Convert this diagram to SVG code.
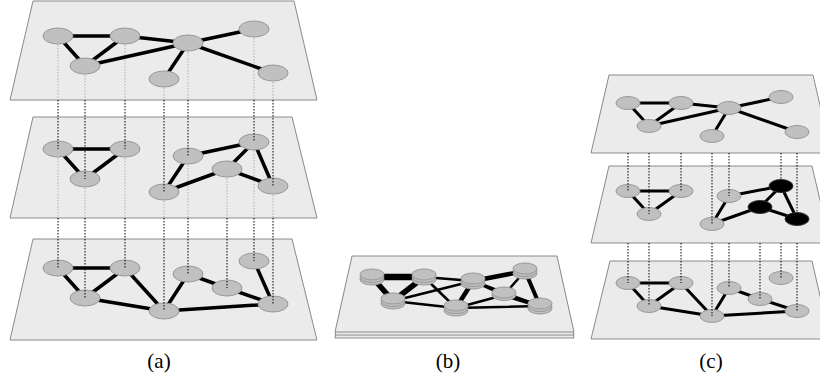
<svg xmlns="http://www.w3.org/2000/svg" width="820" height="378" viewBox="0 0 820 378">
<style>
.plane{fill:#ebebeb;stroke:#8a8a8a;stroke-width:1}
.n{fill:#c0c0c0;stroke:#989898;stroke-width:1}
.nb{fill:#000;stroke:#333;stroke-width:1}
.e{stroke:#000;stroke-width:3.5;fill:none}
.ec{stroke:#000;stroke-width:3;fill:none}
.dot{stroke:#000;stroke-width:1;stroke-dasharray:1.5 1.5;fill:none}
.hid{stroke:#b0b0b0;stroke-width:1;stroke-dasharray:1.5 1.5;fill:none}
.lbl{font-family:"Liberation Serif","Times New Roman",serif;font-size:21px;fill:#000;text-anchor:middle}
</style>
<rect width="820" height="378" fill="#fff"/>

<!-- ===== Panel (a) ===== -->
<g id="a-top-plane"><polygon class="plane" points="33,1 294,1 317,100 10,100"/></g>
<g id="a-mid-plane"><polygon class="plane" points="33,117 292,117 317,218 10,218"/></g>
<g id="a-bot-plane"><polygon class="plane" points="33,239 292,239 317,340 10,340"/></g>

<g id="connectors-a">
  <path class="hid" d="M58,45V100M85,75V100M125,45V100M164,88V100M188,52V100M254,38V100M273,82V100"/>
  <path class="hid" d="M58,158V218M85,188V218M125,158V218M164,201V218M188,165V218M227,178V218M254,151V218M273,195V218"/>
  <path class="e" d="M58,36L125,36M58,36L85,66M125,36L85,66M125,36L188,43M85,66L188,43M188,43L164,79M188,43L254,29M188,43L273,73"/>
  <path class="e" d="M58,149L125,149M58,149L85,179M125,149L85,179M164,192L188,156M164,192L227,169M188,156L254,142M254,142L227,169M254,142L273,186M227,169L273,186"/>
  <path class="e" d="M58,268L125,268M58,268L85,298M125,268L85,298M125,268L164,311M85,298L164,311M164,311L188,274M188,274L227,288M227,288L273,304M254,261L273,304M164,311L273,304"/>
</g>

<g id="a-top-nodes">
  <g id="a1-A"><ellipse class="n" cx="58" cy="36" rx="15" ry="8"/></g>
  <g id="a1-B"><ellipse class="n" cx="125" cy="36" rx="15" ry="8"/></g>
  <g id="a1-C"><ellipse class="n" cx="85" cy="66" rx="15" ry="8"/></g>
  <g id="a1-D"><ellipse class="n" cx="188" cy="43" rx="15" ry="8"/></g>
  <g id="a1-E"><ellipse class="n" cx="254" cy="29" rx="15" ry="8"/></g>
  <g id="a1-F"><ellipse class="n" cx="164" cy="79" rx="15" ry="8"/></g>
  <g id="a1-G"><ellipse class="n" cx="273" cy="73" rx="15" ry="8"/></g>
</g>
<g id="a-mid-nodes">
  <g id="a2-A"><ellipse class="n" cx="58" cy="149" rx="15" ry="8"/></g>
  <g id="a2-B"><ellipse class="n" cx="125" cy="149" rx="15" ry="8"/></g>
  <g id="a2-C"><ellipse class="n" cx="85" cy="179" rx="15" ry="8"/></g>
  <g id="a2-D"><ellipse class="n" cx="188" cy="156" rx="15" ry="8"/></g>
  <g id="a2-E"><ellipse class="n" cx="254" cy="142" rx="15" ry="8"/></g>
  <g id="a2-F"><ellipse class="n" cx="164" cy="192" rx="15" ry="8"/></g>
  <g id="a2-G"><ellipse class="n" cx="273" cy="186" rx="15" ry="8"/></g>
  <g id="a2-X"><ellipse class="n" cx="227" cy="169" rx="15" ry="8"/></g>
</g>
<g id="a-bot-nodes">
  <g id="a3-A"><ellipse class="n" cx="58" cy="268" rx="15" ry="8"/></g>
  <g id="a3-B"><ellipse class="n" cx="125" cy="268" rx="15" ry="8"/></g>
  <g id="a3-C"><ellipse class="n" cx="85" cy="298" rx="15" ry="8"/></g>
  <g id="a3-D"><ellipse class="n" cx="188" cy="274" rx="15" ry="8"/></g>
  <g id="a3-E"><ellipse class="n" cx="254" cy="261" rx="15" ry="8"/></g>
  <g id="a3-F"><ellipse class="n" cx="164" cy="311" rx="15" ry="8"/></g>
  <g id="a3-G"><ellipse class="n" cx="273" cy="304" rx="15" ry="8"/></g>
  <g id="a3-X"><ellipse class="n" cx="227" cy="288" rx="15" ry="8"/></g>
</g>
<g id="connectors-a-dotted">
  <path class="dot" d="M58,100V149M85,100V179M125,100V149M164,100V192M188,100V156M254,100V142M273,100V186"/>
  <path class="dot" d="M58,218V268M85,218V298M125,218V268M164,218V311M188,218V274M227,218V288M254,218V261M273,218V304"/>
</g>
<text class="lbl" x="159" y="368">(a)</text>

<!-- ===== Panel (b) ===== -->
<g id="b-plane">
  <polygon class="plane" points="352,262 557,262 574,338 335,338"/>
  <polygon class="plane" points="352,259 557,259 574,335 335,335"/>
  <polygon class="plane" points="352,256 557,256 574,332 335,332"/>
</g>
<g id="connectors-b" fill="none" stroke="#000">
  <path stroke-width="6.5" d="M372,277L424,277"/>
  <path stroke-width="5.5" d="M372,277L393,301M424,277L393,301"/>
  <path stroke-width="4.5" d="M473,281L456,308M473,281L525,271"/>
  <path stroke-width="4" d="M525,271L540,306M504,295L540,306"/>
  <path stroke-width="2.5" d="M424,277L473,281M393,301L473,281M473,281L540,306M456,308L504,295M525,271L504,295M424,277L456,308M393,301L456,308M473,281L504,295M456,308L540,306"/>
</g>
<g id="b-nodes">
  <g id="b-A"><ellipse class="n" cx="372" cy="279.5" rx="12" ry="5.5"/><ellipse class="n" cx="372" cy="277" rx="12" ry="5.5"/><ellipse class="n" cx="372" cy="274.5" rx="12" ry="5.5"/></g>
  <g id="b-B"><ellipse class="n" cx="424" cy="279.5" rx="12" ry="5.5"/><ellipse class="n" cx="424" cy="277" rx="12" ry="5.5"/><ellipse class="n" cx="424" cy="274.5" rx="12" ry="5.5"/></g>
  <g id="b-C"><ellipse class="n" cx="393" cy="303.5" rx="12" ry="5.5"/><ellipse class="n" cx="393" cy="301" rx="12" ry="5.5"/><ellipse class="n" cx="393" cy="298.5" rx="12" ry="5.5"/></g>
  <g id="b-D"><ellipse class="n" cx="473" cy="283.5" rx="12" ry="5.5"/><ellipse class="n" cx="473" cy="281" rx="12" ry="5.5"/><ellipse class="n" cx="473" cy="278.5" rx="12" ry="5.5"/></g>
  <g id="b-E"><ellipse class="n" cx="525" cy="273.5" rx="12" ry="5.5"/><ellipse class="n" cx="525" cy="271" rx="12" ry="5.5"/><ellipse class="n" cx="525" cy="268.5" rx="12" ry="5.5"/></g>
  <g id="b-X"><ellipse class="n" cx="504" cy="295" rx="12" ry="5.5"/><ellipse class="n" cx="504" cy="292.5" rx="12" ry="5.5"/></g>
  <g id="b-F"><ellipse class="n" cx="456" cy="310.5" rx="12" ry="5.5"/><ellipse class="n" cx="456" cy="308" rx="12" ry="5.5"/><ellipse class="n" cx="456" cy="305.5" rx="12" ry="5.5"/></g>
  <g id="b-G"><ellipse class="n" cx="540" cy="308.5" rx="12" ry="5.5"/><ellipse class="n" cx="540" cy="306" rx="12" ry="5.5"/><ellipse class="n" cx="540" cy="303.5" rx="12" ry="5.5"/></g>
</g>
<text class="lbl" x="448" y="368">(b)</text>

<!-- ===== Panel (c) ===== -->
<g id="c-top-plane"><polygon class="plane" points="609,75 813,75 831,153 591,153"/></g>
<g id="c-mid-plane"><polygon class="plane" points="609,166 812,166 830,243 591,243"/></g>
<g id="c-bot-plane"><polygon class="plane" points="610,261 812,261 830,339 591,339"/></g>

<g id="connectors-c">
  <path class="ec" d="M628,103L681,103M628,103L649,126M681,103L649,126M681,103L729,108M649,126L729,108M729,108L712,136M729,108L781,97M729,108L797,132"/>
  <path class="ec" d="M628,191L681,191M628,191L649,214M681,191L649,214M712,224L729,196M712,224L760,207M729,196L781,186M781,186L760,207M781,186L797,219M760,207L797,219"/>
  <path class="ec" d="M628,283L681,283M628,283L649,306M681,283L649,306M681,283L712,316M649,306L712,316M712,316L729,288M729,288L760,299M712,316L797,311"/>
  <path class="ec" stroke-width="5" d="M760,299L797,311"/>
</g>

<g id="c-top-nodes">
  <g id="c1-A"><ellipse class="n" cx="628" cy="103" rx="12" ry="6.5"/></g>
  <g id="c1-B"><ellipse class="n" cx="681" cy="103" rx="12" ry="6.5"/></g>
  <g id="c1-C"><ellipse class="n" cx="649" cy="126" rx="12" ry="6.5"/></g>
  <g id="c1-D"><ellipse class="n" cx="729" cy="108" rx="12" ry="6.5"/></g>
  <g id="c1-E"><ellipse class="n" cx="781" cy="97" rx="12" ry="6.5"/></g>
  <g id="c1-F"><ellipse class="n" cx="712" cy="136" rx="12" ry="6.5"/></g>
  <g id="c1-G"><ellipse class="n" cx="797" cy="132" rx="12" ry="6.5"/></g>
</g>
<g id="c-mid-nodes">
  <g id="c2-A"><ellipse class="n" cx="628" cy="191" rx="12" ry="6.5"/></g>
  <g id="c2-B"><ellipse class="n" cx="681" cy="191" rx="12" ry="6.5"/></g>
  <g id="c2-C"><ellipse class="n" cx="649" cy="214" rx="12" ry="6.5"/></g>
  <g id="c2-D"><ellipse class="n" cx="729" cy="196" rx="12" ry="6.5"/></g>
  <g id="c2-F"><ellipse class="n" cx="712" cy="224" rx="12" ry="6.5"/></g>
  <g id="c2-X"><ellipse class="nb" cx="760" cy="207" rx="12" ry="6.5"/></g>
  <g id="c2-E"><ellipse class="nb" cx="781" cy="186" rx="12" ry="6.5"/></g>
  <g id="c2-G"><ellipse class="nb" cx="797" cy="219" rx="12" ry="6.5"/></g>
</g>
<g id="c-bot-nodes">
  <g id="c3-A"><ellipse class="n" cx="628" cy="283" rx="12" ry="6.5"/></g>
  <g id="c3-B"><ellipse class="n" cx="681" cy="283" rx="12" ry="6.5"/></g>
  <g id="c3-C"><ellipse class="n" cx="649" cy="306" rx="12" ry="6.5"/></g>
  <g id="c3-D"><ellipse class="n" cx="729" cy="288" rx="12" ry="6.5"/></g>
  <g id="c3-E"><ellipse class="n" cx="781" cy="278" rx="12" ry="6.5"/></g>
  <g id="c3-F"><ellipse class="n" cx="712" cy="316" rx="12" ry="6.5"/></g>
  <g id="c3-X"><ellipse class="n" cx="760" cy="299" rx="12" ry="6.5"/></g>
  <g id="c3-G"><ellipse class="n" cx="797" cy="311" rx="12" ry="6.5"/></g>
</g>
<g id="connectors-c-dotted">
  <path class="dot" d="M628,153V191M649,153V214M681,153V191M712,153V224M729,153V196M781,153V186M797,153V219"/>
  <path class="dot" d="M628,243V283M649,243V306M681,243V283M712,243V316M729,243V288M760,243V299M781,243V278M797,243V311"/>
</g>
<text class="lbl" x="711" y="368">(c)</text>
</svg>
